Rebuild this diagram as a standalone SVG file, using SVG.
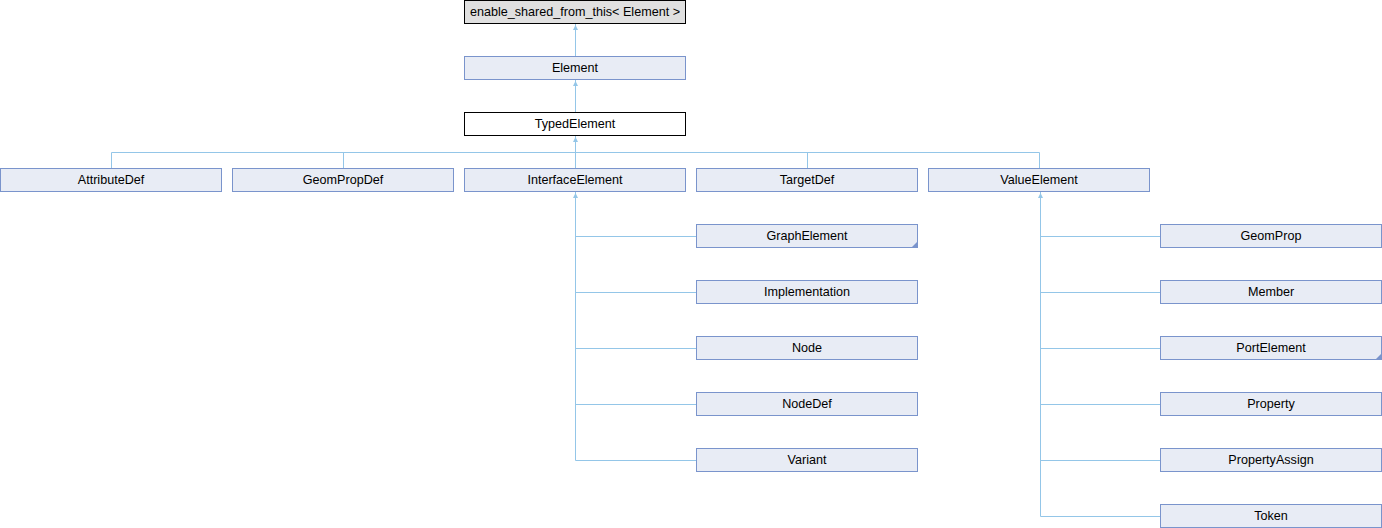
<svg xmlns="http://www.w3.org/2000/svg" width="1382" height="528" viewBox="0 0 1382 528">
<style>
.b{fill:#E8ECF5;stroke:#7A94CC;stroke-width:1}
.w{fill:#FFFFFF;stroke:#000000;stroke-width:1}
.g{fill:#E0E0E0;stroke:#000000;stroke-width:1}
.t{font-family:"Liberation Sans",Arial,sans-serif;font-size:12.6px;fill:#000;text-anchor:middle}
.c{fill:none;stroke:#94C6E8;stroke-width:1}
.a{fill:#94C6E8;stroke:none}
.k{fill:#7A94CC}
</style>
<rect width="1382" height="528" fill="#fff"/>
<g id="connectors">
<path class="c" d="M575.5 24 V56"/>
<path class="a" d="M575.5 25 L573 30 H578 Z"/>
<path class="c" d="M575.5 80 V112"/>
<path class="a" d="M575.5 81 L573 86 H578 Z"/>
<path class="c" d="M575.5 136 V152.5 M111.5 152.5 H1039.5 M111.5 152.5 V168 M343.5 152.5 V168 M575.5 152.5 V168 M807.5 152.5 V168 M1039.5 152.5 V168"/>
<path class="a" d="M575.5 137 L573 142 H578 Z"/>
<path class="c" d="M575.5 192 V460.5 M575.5 236.5 H696 M575.5 292.5 H696 M575.5 348.5 H696 M575.5 404.5 H696 M575.5 460.5 H696"/>
<path class="a" d="M575.5 193 L573 198 H578 Z"/>
<path class="c" d="M1040.5 192 V516.5 M1040.5 236.5 H1160 M1040.5 292.5 H1160 M1040.5 348.5 H1160 M1040.5 404.5 H1160 M1040.5 460.5 H1160 M1040.5 516.5 H1160"/>
<path class="a" d="M1040.5 193 L1038 198 H1043 Z"/>
</g>
<g id="enable_shared_from_this"><rect class="g" x="464.5" y="0.5" width="221" height="23"/><text class="t" x="575" y="16">enable_shared_from_this&lt; Element &gt;</text></g>
<g id="Element"><rect class="b" x="464.5" y="56.5" width="221" height="23"/><text class="t" x="575" y="72">Element</text></g>
<g id="TypedElement"><rect class="w" x="464.5" y="112.5" width="221" height="23"/><text class="t" x="575" y="128">TypedElement</text></g>
<g id="AttributeDef"><rect class="b" x="0.5" y="168.5" width="221" height="23"/><text class="t" x="111" y="184">AttributeDef</text></g>
<g id="GeomPropDef"><rect class="b" x="232.5" y="168.5" width="221" height="23"/><text class="t" x="343" y="184">GeomPropDef</text></g>
<g id="InterfaceElement"><rect class="b" x="464.5" y="168.5" width="221" height="23"/><text class="t" x="575" y="184">InterfaceElement</text></g>
<g id="TargetDef"><rect class="b" x="696.5" y="168.5" width="221" height="23"/><text class="t" x="807" y="184">TargetDef</text></g>
<g id="ValueElement"><rect class="b" x="928.5" y="168.5" width="221" height="23"/><text class="t" x="1039" y="184">ValueElement</text></g>
<g id="GraphElement"><rect class="b" x="696.5" y="224.5" width="221" height="23"/><path class="k" d="M917 242 V247 H912 Z"/><text class="t" x="807" y="240">GraphElement</text></g>
<g id="Implementation"><rect class="b" x="696.5" y="280.5" width="221" height="23"/><text class="t" x="807" y="296">Implementation</text></g>
<g id="Node"><rect class="b" x="696.5" y="336.5" width="221" height="23"/><text class="t" x="807" y="352">Node</text></g>
<g id="NodeDef"><rect class="b" x="696.5" y="392.5" width="221" height="23"/><text class="t" x="807" y="408">NodeDef</text></g>
<g id="Variant"><rect class="b" x="696.5" y="448.5" width="221" height="23"/><text class="t" x="807" y="464">Variant</text></g>
<g id="GeomProp"><rect class="b" x="1160.5" y="224.5" width="221" height="23"/><text class="t" x="1271" y="240">GeomProp</text></g>
<g id="Member"><rect class="b" x="1160.5" y="280.5" width="221" height="23"/><text class="t" x="1271" y="296">Member</text></g>
<g id="PortElement"><rect class="b" x="1160.5" y="336.5" width="221" height="23"/><path class="k" d="M1381 354 V359 H1376 Z"/><text class="t" x="1271" y="352">PortElement</text></g>
<g id="Property"><rect class="b" x="1160.5" y="392.5" width="221" height="23"/><text class="t" x="1271" y="408">Property</text></g>
<g id="PropertyAssign"><rect class="b" x="1160.5" y="448.5" width="221" height="23"/><text class="t" x="1271" y="464">PropertyAssign</text></g>
<g id="Token"><rect class="b" x="1160.5" y="504.5" width="221" height="23"/><text class="t" x="1271" y="520">Token</text></g>
</svg>
